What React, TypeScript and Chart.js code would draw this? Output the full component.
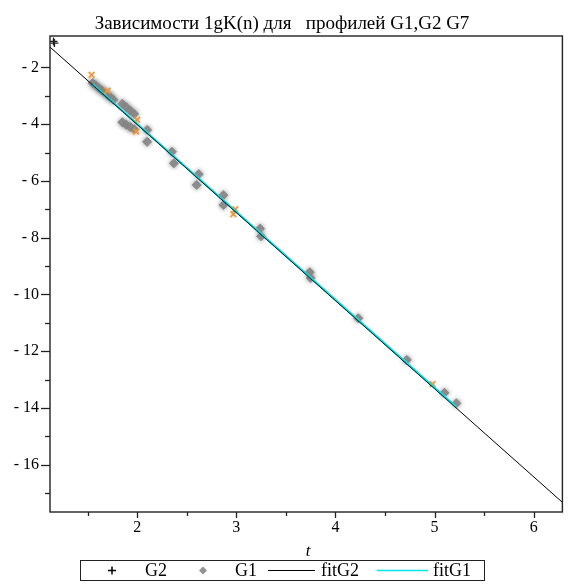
import React, { useEffect, useRef } from "react";
import { Chart, registerables } from "chart.js";

Chart.register(...registerables);

// ---- data ----
const titleText = "Зависимости 1gK(n) для   профилей G1,G2 G7";
const xAxisTitle = "t";

const xRange = [1.12, 6.29];
const yRange = [-17.67, -0.89];

const xMajorTicks = [2, 3, 4, 5, 6];
const xMinorTicks = [1.5, 2.5, 3.5, 4.5, 5.5];
const yMajorTicks = [-2, -4, -6, -8, -10, -12, -14, -16];
const yMinorTicks = [-3, -5, -7, -9, -11, -13, -15, -17];

// G2 (black +)
const g2T = [1.155, 1.165];
const g2Y = [-1.08, -1.14];

// G7 (orange crosses)
const g7T = [1.54, 1.70, 2.0, 1.99, 2.99, 2.97, 4.98];
const g7Y = [-2.26, -2.82, -3.85, -4.26, -7.0, -7.17, -13.16];

// G1 (grey diamonds)
const g1T = [
  1.55, 1.58, 1.61, 1.64, 1.67, 1.70, 1.73, 1.76,
  1.85, 1.89, 1.93, 1.97,
  1.85, 1.89, 1.93, 1.97,
  2.10, 2.10, 2.35, 2.37, 2.62, 2.60, 2.87, 2.87,
  3.24, 3.25, 3.74, 3.75, 4.23, 4.72, 5.10, 5.22,
];
const g1Y = [
  -2.55, -2.63, -2.72, -2.80, -2.88, -2.97, -3.05, -3.14,
  -3.28, -3.40, -3.52, -3.64,
  -3.93, -4.02, -4.10, -4.18,
  -4.20, -4.62, -4.97, -5.38, -5.76, -6.14, -6.50, -6.85,
  -7.68, -7.95, -9.22, -9.42, -10.84, -12.31, -13.47, -13.84,
];

// fitted lines (end points)
const fitG2T = [1.12, 6.29];
const fitG2Y = [-1.28, -17.33];
const fitG1T = [1.55, 5.22];
const fitG1Y = [-2.59, -13.96];

const zip = (a: number[], b: number[]) => a.map((v, i) => ({ x: v, y: b[i] }));

const SERIF = "'Liberation Serif', 'Times New Roman', serif";
const ORANGE = "#e8973f";
const GREY = "rgba(135,135,135,0.9)";
const CYAN = "#00e5ee";

const softPlugin = {
  id: "soft",
  beforeDatasetDraw(chart: any, args: any) {
    const lbl = chart.data.datasets[args.index].label;
    if (lbl === "G1" || lbl === "G7") {
      const ctx = chart.ctx;
      ctx.save();
      ctx.shadowColor = lbl === "G1" ? "rgba(130,130,130,0.9)" : "rgba(232,151,63,0.6)";
      ctx.shadowBlur = lbl === "G1" ? 4 : 2;
    }
  },
  afterDatasetDraw(chart: any, args: any) {
    const lbl = chart.data.datasets[args.index].label;
    if (lbl === "G1" || lbl === "G7") chart.ctx.restore();
  },
};

const decorPlugin = {
  id: "decor",
  afterDraw(chart: any) {
    const { ctx, chartArea: a, scales } = chart;
    const xs = scales.x;
    const ys = scales.y;
    ctx.save();
    // frame
    ctx.strokeStyle = "#222";
    ctx.lineWidth = 1.4;
    ctx.strokeRect(a.left, a.top, a.right - a.left, a.bottom - a.top);
    // ticks
    ctx.lineWidth = 1.3;
    const vTick = (v: number, len: number) => {
      const px = Math.round(xs.getPixelForValue(v)) + 0.5;
      ctx.beginPath();
      ctx.moveTo(px, a.bottom);
      ctx.lineTo(px, a.bottom + len);
      ctx.stroke();
    };
    const hTick = (v: number, len: number) => {
      const py = Math.round(ys.getPixelForValue(v)) + 0.5;
      ctx.beginPath();
      ctx.moveTo(a.left, py);
      ctx.lineTo(a.left - len, py);
      ctx.stroke();
    };
    xMajorTicks.forEach((v) => vTick(v, 6));
    xMinorTicks.forEach((v) => vTick(v, 4));
    yMajorTicks.forEach((v) => hTick(v, 9));
    yMinorTicks.forEach((v) => hTick(v, 5));

    // title
    ctx.fillStyle = "#000";
    ctx.font = `19px ${SERIF}`;
    ctx.textAlign = "center";
    ctx.textBaseline = "alphabetic";
    ctx.fillText(titleText, 282, 29);

    // axis title
    ctx.font = `italic 17px ${SERIF}`;
    ctx.fillText(xAxisTitle, (a.left + a.right) / 2 + 2, 556);

    // legend
    const top = 560.5;
    const h = 20;
    const cy = top + h / 2;
    ctx.lineWidth = 1;
    ctx.strokeStyle = "#222";
    ctx.strokeRect(80.5, top, 404, h);
    ctx.font = `18px ${SERIF}`;
    ctx.textAlign = "left";
    const base = top + 15.5;
    // + G2
    ctx.strokeStyle = "#000";
    ctx.lineWidth = 1.5;
    ctx.beginPath();
    ctx.moveTo(108, cy);
    ctx.lineTo(116, cy);
    ctx.moveTo(112, cy - 4);
    ctx.lineTo(112, cy + 4);
    ctx.stroke();
    ctx.fillText("G2", 145, base);
    // diamond G1
    ctx.fillStyle = GREY;
    ctx.beginPath();
    ctx.moveTo(203, cy - 4);
    ctx.lineTo(207, cy);
    ctx.lineTo(203, cy + 4);
    ctx.lineTo(199, cy);
    ctx.closePath();
    ctx.fill();
    ctx.fillStyle = "#000";
    ctx.fillText("G1", 235, base);
    // fitG2
    ctx.lineWidth = 1.2;
    ctx.strokeStyle = "#000";
    ctx.beginPath();
    ctx.moveTo(268, cy);
    ctx.lineTo(315, cy);
    ctx.stroke();
    ctx.fillText("fitG2", 321, base);
    // fitG1
    ctx.strokeStyle = CYAN;
    ctx.lineWidth = 1.5;
    ctx.beginPath();
    ctx.moveTo(377, cy);
    ctx.lineTo(428, cy);
    ctx.stroke();
    ctx.fillText("fitG1", 433, base);
    ctx.restore();
  },
};

export default function App() {
  const ref = useRef<HTMLCanvasElement | null>(null);
  useEffect(() => {
    if (!ref.current) return;
    const chart = new Chart(ref.current, {
      type: "scatter",
      data: {
        datasets: [
          {
            label: "fitG2",
            data: zip(fitG2T, fitG2Y),
            showLine: true,
            borderColor: "#000",
            borderWidth: 1,
            pointRadius: 0,
          },
          {
            label: "fitG1",
            data: zip(fitG1T, fitG1Y),
            showLine: true,
            borderColor: CYAN,
            borderWidth: 2,
            pointRadius: 0,
          },
          {
            label: "G2",
            data: zip(g2T, g2Y),
            pointStyle: "cross",
            pointRadius: 4,
            borderColor: "#222",
            borderWidth: 1.3,
          },
          {
            label: "G7",
            data: zip(g7T, g7Y),
            pointStyle: "crossRot",
            pointRadius: 4,
            borderColor: ORANGE,
            borderWidth: 1.6,
          },
          {
            label: "G1",
            data: zip(g1T, g1Y),
            pointStyle: "rectRot",
            pointRadius: 4.5,
            backgroundColor: GREY,
            borderColor: GREY,
            borderWidth: 1,
          },
        ],
      },
      options: {
        animation: false,
        responsive: false,
        maintainAspectRatio: false,
        layout: { padding: { left: 0, right: 1, top: 36, bottom: 42 } },
        plugins: {
          legend: { display: false },
          title: { display: false },
          tooltip: { enabled: false },
        },
        scales: {
          x: {
            type: "linear",
            min: xRange[0],
            max: xRange[1],
            grid: { display: false, drawTicks: false },
            border: { display: false },
            afterBuildTicks: (s: any) => {
              s.ticks = xMajorTicks.map((v) => ({ value: v }));
            },
            afterFit: (s: any) => {
              s.height = 30;
            },
            ticks: {
              autoSkip: false,
              maxRotation: 0,
              padding: 6,
              color: "#000",
              font: { family: SERIF, size: 16 },
              callback: (v: any) => String(v),
            },
          },
          y: {
            type: "linear",
            min: yRange[0],
            max: yRange[1],
            grid: { display: false, drawTicks: false },
            border: { display: false },
            afterBuildTicks: (s: any) => {
              s.ticks = yMajorTicks.map((v) => ({ value: v }));
            },
            afterFit: (s: any) => {
              s.width = 50;
            },
            ticks: {
              autoSkip: false,
              padding: 11,
              color: "#000",
              font: { family: SERIF, size: 16 },
              callback: (v: any) => "- " + Math.abs(Number(v)),
            },
          },
        },
      },
      plugins: [softPlugin, decorPlugin],
    });
    return () => chart.destroy();
  }, []);
  return (
    <div style={{ position: "fixed", left: 0, top: 0, width: 568, height: 584, background: "#fff" }}>
      <canvas ref={ref} width={568} height={584} style={{ display: "block" }} />
    </div>
  );
}
